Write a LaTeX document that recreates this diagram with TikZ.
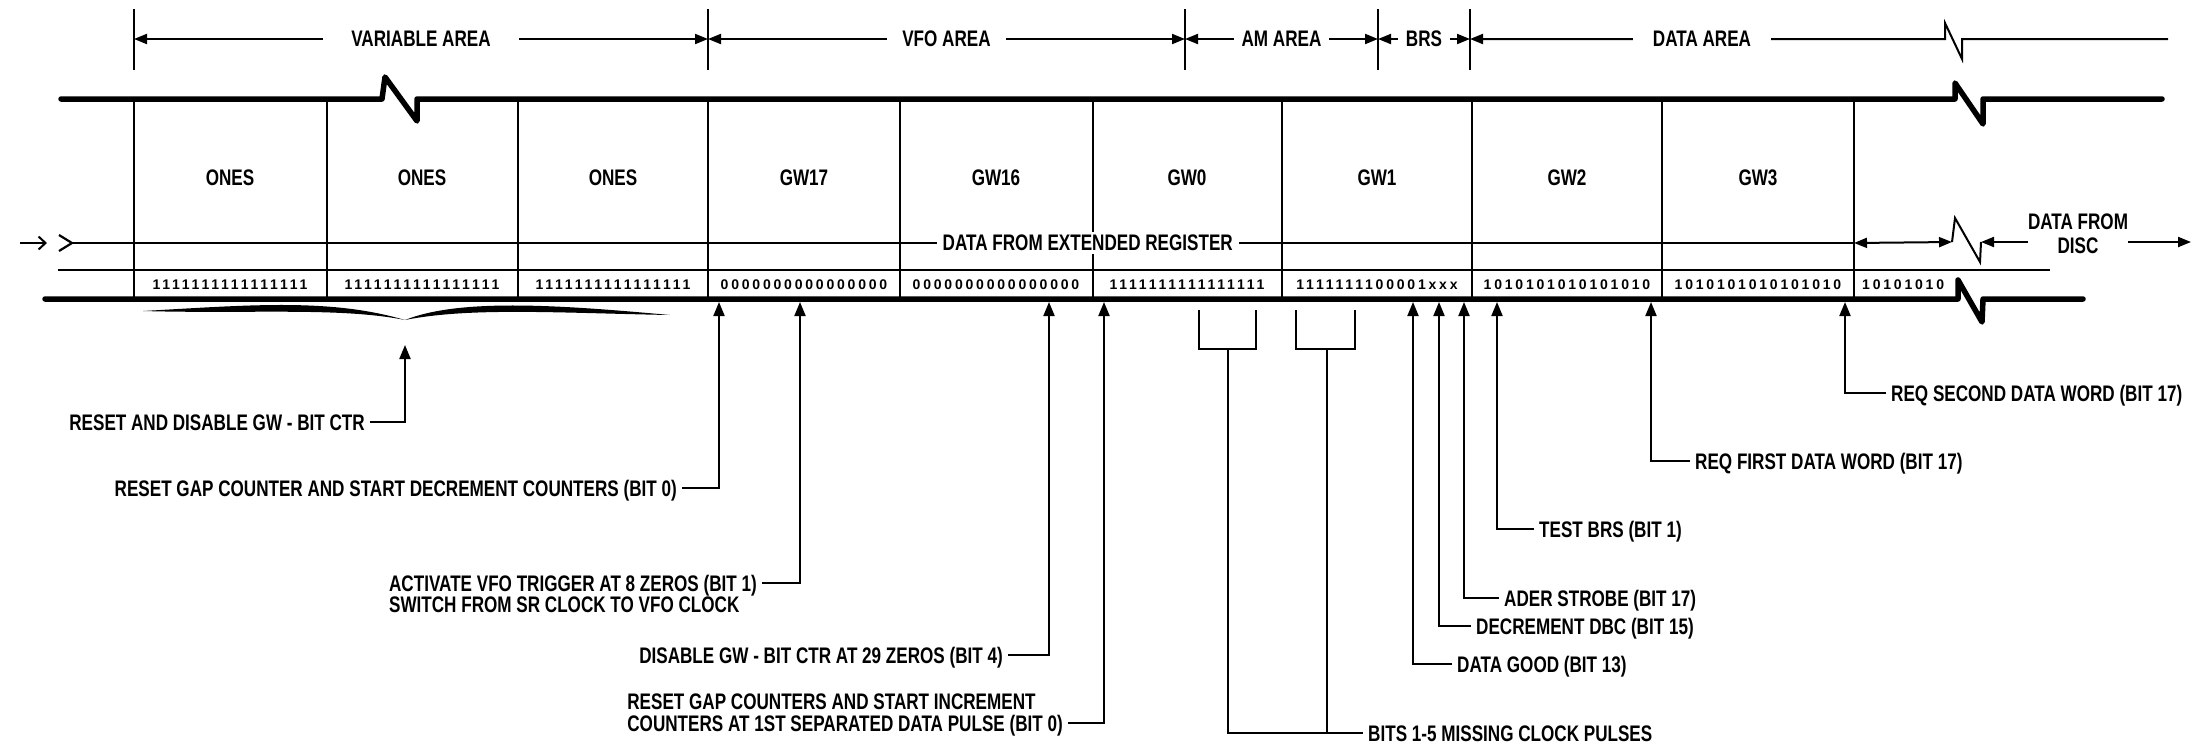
\documentclass[tikz,border=0pt]{standalone}
\usepackage{fontspec}
\setmainfont{Liberation Sans}[FakeStretch=0.76]
\newfontfamily\bitfont{Liberation Sans}[LetterSpace=20]
\usetikzlibrary{arrows.meta,positioning}

\tikzset{
  bar/.style={line width=5.5pt, line cap=round, line join=round},
  thin/.style={line width=1.6pt},
  dim/.style={line width=2pt},
  tip/.style={line width=2pt, -{Triangle[length=14pt,width=11pt]}},
  txt/.style={font=\bfseries\fontsize{22.5}{24}\selectfont, inner sep=0pt},
  lbl/.style={txt, inner xsep=5pt, text height=16pt, text depth=0pt},
  bits/.style={font=\bitfont\bfseries\fontsize{14}{14}\selectfont, inner sep=0pt},
}

\begin{document}
\begin{tikzpicture}[x=1pt,y=-1pt,>={Triangle[length=13pt,width=10pt]}]
\path[use as bounding box, fill=white] (0,0) rectangle (2194,748);

% area marks along the top
\foreach \n/\x in {a/134,b/708,c/1185,d/1378,e/1470}{
  \draw[dim] (\x,9) -- (\x,70);
  \coordinate (m\n) at (\x,39);
}
\coordinate (mend) at (2168,39);
\draw[dim,<->] (ma) -- node[txt,fill=white,inner xsep=28pt,inner ysep=3pt] (var) {VARIABLE AREA} (mb);
\draw[dim,<->] (mb) -- node[txt,fill=white,inner xsep=15pt,inner ysep=3pt] (vfo) {VFO AREA} (mc);
\draw[dim,<->] (mc) -- node[txt,fill=white,inner xsep=8pt,inner ysep=3pt] (am) {AM AREA} (md);
\draw[dim,<->] (md) -- node[txt,fill=white,inner xsep=8pt,inner ysep=3pt] (brs) {BRS} (me);
\draw[dim,<-] (me) -- (1945,39) -- (1945,23) -- (1962,59) -- (1962,39) -- (mend);
\node[txt,fill=white,inner xsep=20pt,inner ysep=3pt] (data) at (1702,39) {DATA AREA};

% word cells
\foreach \x in {134,327,518,708,900,1093,1282,1472,1662,1854}
  \draw[thin] (\x,99) -- (\x,299);
\foreach \x/\lab/\bit [count=\i] in {
    230/ONES/1111111111111111, 422/ONES/1111111111111111,
    613/ONES/1111111111111111, 804/GW17/0000000000000000,
    996/GW16/0000000000000000, 1187/GW0/1111111111111111,
    1377/GW1/1111111100001xxx, 1567/GW2/1010101010101010,
    1758/GW3/1010101010101010}{
  \node[txt] (w\i) at (\x,178) {\lab};
  \node[bits] (b\i) at (\x,285) {\bit};
}
\node[bits,anchor=west] (b10) at (1862,285) {10101010};

% track edges
\draw[bar] (61,99) -- (382,99) -- (385,77) -- (417,121) -- (417,99)
  -- (1955,99) -- (1955,83) -- (1983,124) -- (1983,99) -- (2162,99);
\draw[thin] (58,270) -- (2050,270);
\draw[bar] (45,299) -- (1958,299) -- (1958,280) -- (1982,322) -- (1983,299) -- (2083,299);

% data path
\coordinate (din) at (72,243);
\coordinate (dout) at (1854,243);
\draw[line width=2pt,-{Straight Barb[length=7pt,width=13pt]}] (20,243) -- (47,243);
\draw[line width=2.2pt] (59,235) -- (din) -- (59,251);
\draw[line width=2.2pt] (din) -- node[txt,fill=white,pos=0.57,inner xsep=6pt,inner ysep=3pt] (reg) {DATA FROM EXTENDED REGISTER} (dout);
\coordinate (zz) at (1952,242);
\draw[dim,<->] (dout) -- (zz);
\draw[dim] (zz) -- (1955,218) -- (1980,262) -- (1981,242);
\node[txt,align=center] (disc) at (2078,234) {DATA FROM\\DISC};
\draw[dim,<-] (1981,242) -- (disc.west |- zz);
\coordinate (dend) at (2191,242);
\draw[dim,->] (disc.east |- zz) -- (dend);

% brace under the ones
\fill (143,311) .. controls (250,305) and (330,298) .. (405,320)
  .. controls (340,307) and (250,314) .. (143,311) -- cycle;
\fill (670,315) .. controls (560,305) and (460,298) .. (405,320)
  .. controls (470,307) and (560,313) .. (670,315) -- cycle;

% tap points under the track
\foreach \n/\x in {a/719,b/800,c/1049,d/1104,e/1413,f/1439,g/1464,h/1497,i/1651,j/1845}
  \coordinate (t\n) at (\x,302);
\coordinate (tbr) at (405,345);

% left notes
\node[lbl,anchor=east] (l1) at (370,422) {RESET AND DISABLE GW - BIT CTR};
\node[lbl,anchor=east] (l2) at (682,488) {RESET GAP COUNTER AND START DECREMENT COUNTERS (BIT 0)};
\node[lbl,anchor=east] (l3) at (762,583) {ACTIVATE VFO TRIGGER AT 8 ZEROS (BIT 1)};
\node[lbl,below=5pt of l3.south west,anchor=north west] (l3b) {SWITCH FROM SR CLOCK TO VFO CLOCK};
\node[lbl,anchor=east] (l4) at (1008,655) {DISABLE GW - BIT CTR AT 29 ZEROS (BIT 4)};
\node[lbl,anchor=east] (l5) at (1068,723) {COUNTERS AT 1ST SEPARATED DATA PULSE (BIT 0)};
\node[lbl,above=5pt of l5.north west,anchor=south west] (l5a) {RESET GAP COUNTERS AND START INCREMENT};

\draw[tip] (l1.east) -| (tbr);
\draw[tip] (l2.east) -| (ta);
\draw[tip] (l3.east) -| (tb);
\draw[tip] (l4.east) -| (tc);
\draw[tip] (l5.east) -| (td);

% right notes
\node[lbl,anchor=west] (r1) at (1534,529) {TEST BRS (BIT 1)};
\node[lbl,anchor=west] (r2) at (1499,598) {ADER STROBE (BIT 17)};
\node[lbl,anchor=west] (r3) at (1471,626) {DECREMENT DBC (BIT 15)};
\node[lbl,anchor=west] (r4) at (1452,664) {DATA GOOD (BIT 13)};
\node[lbl,anchor=west] (r5) at (1690,461) {REQ FIRST DATA WORD (BIT 17)};
\node[lbl,anchor=west] (r6) at (1886,393) {REQ SECOND DATA WORD (BIT 17)};

\draw[tip] (r1.west) -| (th);
\draw[tip] (r2.west) -| (tg);
\draw[tip] (r3.west) -| (tf);
\draw[tip] (r4.west) -| (te);
\draw[tip] (r5.west) -| (ti);
\draw[tip] (r6.west) -| (tj);

% missing clock pulses
\draw[dim] (1199,310) -- (1199,349) -- (1256,349) -- (1256,310);
\draw[dim] (1296,310) -- (1296,349) -- (1355,349) -- (1355,310);
\coordinate (k1) at (1228,349);
\coordinate (k2) at (1327,349);
\node[lbl,anchor=west] (miss) at (1363,733) {BITS 1-5 MISSING CLOCK PULSES};
\draw[dim] (k1) |- (miss.west);
\draw[dim] (k2) -- (k2 |- miss.west);
\end{tikzpicture}
\end{document}
